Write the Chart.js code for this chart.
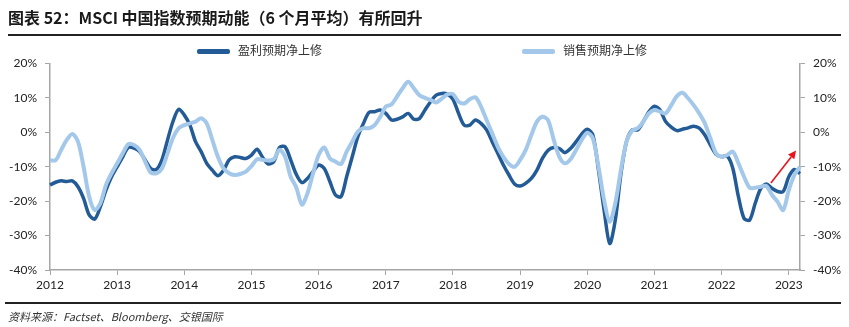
<!DOCTYPE html>
<html>
<head>
<meta charset="utf-8">
<script src="https://cdn.jsdelivr.net/npm/chart.js@4.4.0/dist/chart.umd.min.js"></script>
<style>
  html, body { margin:0; padding:0; background:#fff; }
  body { width:849px; height:327px; position:relative; overflow:hidden; font-family:"Noto Sans CJK SC","Noto Sans",sans-serif; }
  #title { position:absolute; left:8px; top:5px; font-size:16px; font-weight:bold; color:#1a1a1a; letter-spacing:0px; white-space:nowrap; }
  #rule1 { position:absolute; left:8px; top:34px; width:833px; height:2px; background:#222; }
  #rule2 { position:absolute; left:5px; top:302px; width:836px; height:1.5px; background:#222; }
  #source { position:absolute; left:8px; top:308px; font-size:11px; font-style:italic; color:#333; white-space:nowrap; }
  #wrap { position:absolute; left:0; top:0; width:849px; height:327px; }
  .leg { position:absolute; top:41px; font-size:12px; color:#333; white-space:nowrap; letter-spacing:0px; }
  .leg span.ln { display:inline-block; width:33px; height:4.5px; vertical-align:middle; margin-right:8px; border-radius:2px; }
</style>
</head>
<body>
<div id="wrap"><canvas id="c" width="849" height="327"></canvas></div>
<div id="title">图表 52：MSCI 中国指数预期动能（6 个月平均）有所回升</div>
<div id="rule1"></div>
<div class="leg" id="leg1" style="left:197px"><span class="ln" style="background:#235B96"></span>盈利预期净上修</div>
<div class="leg" id="leg2" style="left:522px"><span class="ln" style="background:#A4C8EA"></span>销售预期净上修</div>
<div id="rule2"></div>
<div id="source">资料来源：Factset、Bloomberg、交银国际</div>
<script>
// ---- data ----
const years = ['2012','2013','2014','2015','2016','2017','2018','2019','2020','2021','2022','2023'];
const monthsInLastYear = 3;
const seriesNames = ['盈利预期净上修', '销售预期净上修'];
const yTicks = [20, 10, 0, -10, -20, -30, -40];

// 盈利预期净上修 (6-month average, %), monthly Jan-2012 .. Mar-2023
const earnings = [
 -15.3,-14.5,-14.1,-14.3,-14.1,-15.8,-19.2,-24.0,-25.2,-21.6,-16.8,-12.9,
 -10.0,-7.1,-4.4,-4.6,-5.6,-8.0,-10.5,-10.8,-8.0,-2.2,3.3,6.7,
 5.0,2.1,-2.7,-5.6,-9.0,-11.0,-12.6,-11.0,-8.0,-7.1,-7.3,-7.6,
 -6.6,-4.9,-7.3,-9.2,-8.5,-4.4,-4.2,-8.0,-12.2,-14.6,-13.4,-11.4,
 -9.5,-10.5,-14.3,-18.2,-18.7,-12.9,-7.1,-1.3,2.6,5.8,6.0,6.5,
 5.5,3.6,3.8,4.5,5.5,3.8,4.0,6.5,8.9,10.8,11.3,11.1,
 9.6,5.5,2.1,2.1,3.6,2.6,0.7,-2.7,-6.1,-9.5,-12.4,-15.0,
 -15.6,-14.8,-13.4,-11.0,-7.5,-5.2,-4.4,-4.7,-5.9,-4.7,-2.7,-0.5,
 0.9,-0.8,-11.0,-22.6,-32.3,-25.5,-12.1,-2.7,0.7,0.7,3.1,6.0,
 7.6,6.5,3.1,1.5,0.5,0.9,1.3,1.8,1.2,-0.8,-3.7,-6.4,
 -7.1,-6.9,-10.5,-18.7,-25.0,-25.5,-20.6,-16.3,-15.0,-16.3,-17.2,-17.2,
 -12.9,-10.8,-12.0
];
// 销售预期净上修 (6-month average, %)
const sales = [
 -8.1,-8.1,-5.1,-2.2,-0.5,-2.7,-10.0,-18.7,-22.6,-20.6,-15.3,-11.9,
 -9.0,-6.1,-3.4,-3.7,-5.1,-8.5,-11.7,-11.9,-10.5,-6.1,-1.5,1.2,
 2.1,2.6,3.1,4.1,2.6,-2.2,-7.1,-10.5,-11.9,-12.4,-12.1,-11.4,
 -9.8,-7.8,-8.0,-8.2,-7.8,-5.1,-7.1,-12.9,-16.0,-21.0,-17.7,-11.9,
 -6.6,-4.4,-7.6,-8.5,-9.2,-5.6,-2.7,0.2,1.2,1.2,2.1,4.5,
 7.5,8.1,10.4,12.8,14.7,12.8,10.8,10.0,9.4,8.7,9.8,11.0,
 11.1,8.9,8.4,9.6,10.2,7.5,3.6,-0.3,-4.2,-7.1,-9.2,-10.0,
 -8.0,-5.1,-0.8,3.1,4.5,3.5,-2.2,-7.1,-9.0,-7.8,-5.1,-2.2,
 -0.1,-1.8,-10.0,-19.7,-26.0,-20.6,-11.0,-2.7,0.5,1.2,3.1,5.5,
 6.5,6.0,5.5,7.9,10.5,11.5,9.9,7.9,5.5,2.6,-1.8,-6.1,
 -7.1,-6.6,-5.6,-9.0,-12.9,-16.1,-16.1,-15.8,-15.6,-18.2,-20.2,-22.6,
 -16.8,-12.4,-10.0
];
// red arrow annotation: [category index, value %]
const arrowFrom = [128.8, -14.7];
const arrowTo = [133.3, -5.3];

// ---- categories ----
const categories = [];
years.forEach((y, yi) => {
  const n = (yi === years.length - 1) ? monthsInLastYear : 12;
  for (let m = 1; m <= n; m++) categories.push(y + '-' + String(m).padStart(2, '0'));
});

const AXIS = '#A6A6A6';
const FONT = { family: 'Lato, "Liberation Sans", sans-serif', size: 12 };
const isJan = (ctx) => categories[ctx.index] && categories[ctx.index].endsWith('-01');

const arrowPlugin = {
  id: 'arrow',
  afterDatasetsDraw(chart) {
    const xs = chart.scales.x, ys = chart.scales.y;
    const x1 = xs.getPixelForValue(arrowFrom[0]), y1 = ys.getPixelForValue(arrowFrom[1]);
    const x2 = xs.getPixelForValue(arrowTo[0]), y2 = ys.getPixelForValue(arrowTo[1]);
    const c = chart.ctx;
    const ang = Math.atan2(y2 - y1, x2 - x1), L = 8, W = 4;
    c.save();
    c.strokeStyle = '#E8141B'; c.fillStyle = '#E8141B'; c.lineWidth = 1.6;
    c.beginPath(); c.moveTo(x1, y1);
    c.lineTo(x2 - L * Math.cos(ang), y2 - L * Math.sin(ang)); c.stroke();
    c.beginPath(); c.moveTo(x2, y2);
    c.lineTo(x2 - L * Math.cos(ang) + W * Math.sin(ang), y2 - L * Math.sin(ang) - W * Math.cos(ang));
    c.lineTo(x2 - L * Math.cos(ang) - W * Math.sin(ang), y2 - L * Math.sin(ang) + W * Math.cos(ang));
    c.closePath(); c.fill();
    c.restore();
  }
};

new Chart(document.getElementById('c'), {
  type: 'line',
  data: {
    labels: categories,
    datasets: [
      { label: seriesNames[0], data: earnings, borderColor: '#235B96', borderWidth: 3.5, pointRadius: 0, tension: 0.3, order: 2 },
      { label: seriesNames[1], data: sales, borderColor: '#A4C8EA', borderWidth: 4, pointRadius: 0, tension: 0.3, order: 1 }
    ]
  },
  options: {
    responsive: false,
    animation: false,
    events: [],
    layout: { padding: { left: 0, right: 0, top: 63.5, bottom: 27 } },
    plugins: { legend: { display: false }, tooltip: { enabled: false } },
    scales: {
      x: {
        type: 'category',
        offset: false,
        grid: { drawOnChartArea: false, color: (ctx) => isJan(ctx) ? AXIS : 'rgba(0,0,0,0)', tickLength: 5, lineWidth: 1 },
        border: { color: AXIS, width: 1.5 },
        ticks: {
          autoSkip: false, maxRotation: 0, padding: 3, color: '#222', font: FONT,
          callback: function(v, i) { const c = categories[i]; return c.endsWith('-01') ? c.slice(0, 4) : ''; }
        },
        afterFit: (s) => { s.height = 30; }
      },
      y: {
        position: 'left', min: -40, max: 20,
        afterBuildTicks: (s) => { s.ticks = yTicks.map(v => ({ value: v })); },
        grid: { drawOnChartArea: false, color: AXIS, tickLength: 5 },
        border: { color: AXIS, width: 1.5 },
        ticks: { padding: 8, color: '#222', font: FONT, callback: (v) => v + '%' },
        afterFit: (s) => { s.width = 50; }
      },
      y2: {
        position: 'right', min: -40, max: 20,
        afterBuildTicks: (s) => { s.ticks = yTicks.map(v => ({ value: v })); },
        grid: { drawOnChartArea: false, color: AXIS, tickLength: 5 },
        border: { color: AXIS, width: 1.5 },
        ticks: { padding: 8, color: '#222', font: FONT, callback: (v) => v + '%' },
        afterFit: (s) => { s.width = 49; }
      }
    }
  },
  plugins: [arrowPlugin]
});
</script>
</body>
</html>
